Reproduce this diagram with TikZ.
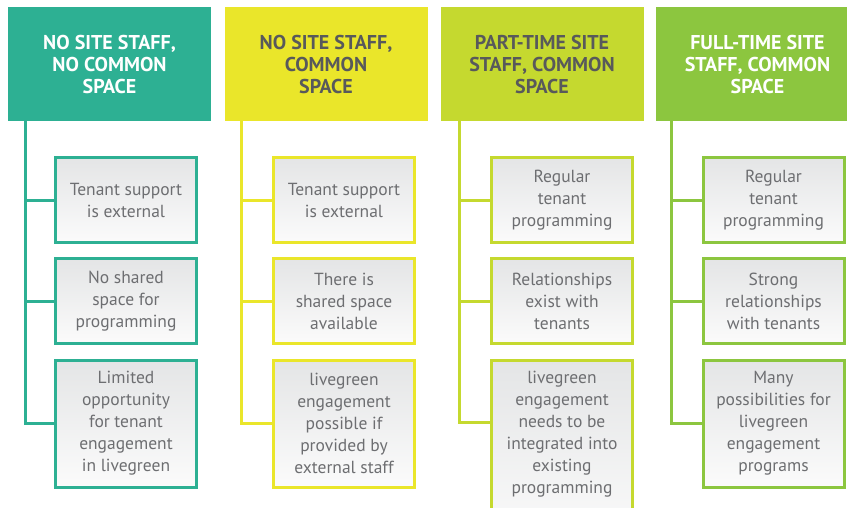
\documentclass[tikz,border=0pt]{standalone}
\usepackage{fontspec}
\setmainfont{PT Sans}
\usetikzlibrary{positioning}

\definecolor{lgTeal}{HTML}{2DB093}
\definecolor{lgYellow}{HTML}{EAE62A}
\definecolor{lgLime}{HTML}{C5D92F}
\definecolor{lgGreen}{HTML}{8CC63F}
\definecolor{headGray}{HTML}{58595B}
\definecolor{itemGray}{HTML}{6D6E71}
\definecolor{boxTop}{HTML}{E4E5E6}
\definecolor{boxBottom}{HTML}{FBFBFB}

\begin{document}
\begin{tikzpicture}[x = 1pt, y = -1pt,
	head/.style = {fill = #1, minimum width = 203pt, minimum height = 114pt, inner sep = 0pt, text depth = 0pt, align = center, font = \bfseries\fontsize{20}{22}\selectfont},
	item/.style = {draw = #1, line width = 3pt, top color = boxTop, bottom color = boxBottom, minimum width = 141pt, anchor = north, align = center, text = itemGray, font = \fontsize{17.5}{22}\selectfont},
	link/.style = {draw = #1, line width = 3pt}]
	\clip (0, 0) rectangle (847, 508);

	% column headers
	\node [head = lgTeal, text = white] (h1) at (109.5, 64) {NO SITE STAFF,\\NO COMMON\\SPACE};
	\node [head = lgYellow, text = headGray] (h2) at (326, 64) {NO SITE STAFF,\\COMMON\\SPACE};
	\node [head = lgLime, text = headGray] (h3) at (542, 64) {PART-TIME SITE\\STAFF, COMMON\\SPACE};
	\node [head = lgGreen, text = white] (h4) at (757.5, 64) {FULL-TIME SITE\\STAFF, COMMON\\SPACE};

	% first column
	\node [item = lgTeal, minimum height = 85pt] (c11) at (126, 156.5) {Tenant support\\is external};
	\node [item = lgTeal, minimum height = 84pt] (c12) at (126, 257.5) {No shared\\space for\\programming};
	\node [item = lgTeal, minimum height = 127pt] (c13) at (126, 358.5) {Limited\\opportunity\\for tenant\\engagement\\in livegreen};

	% second column
	\node [item = lgYellow, minimum height = 85pt] (c21) at (344, 156.5) {Tenant support\\is external};
	\node [item = lgYellow, minimum height = 84pt] (c22) at (344, 257.5) {There is\\shared space\\available};
	\node [item = lgYellow, minimum height = 127pt] (c23) at (344, 358.5) {livegreen\\engagement\\possible if\\provided by\\external staff};

	% third column
	\node [item = lgLime, minimum height = 85pt] (c31) at (562, 156.5) {Regular\\tenant\\programming};
	\node [item = lgLime, minimum height = 84pt] (c32) at (562, 257.5) {Relationships\\exist with\\tenants};
	\node [item = lgLime, inner ysep = 11pt, text depth = 40pt] (c33) at (562, 358.5) {livegreen\\engagement\\needs to be\\integrated into\\existing\\programming};

	% fourth column
	\node [item = lgGreen, minimum height = 85pt] (c41) at (773.5, 156.5) {Regular\\tenant\\programming};
	\node [item = lgGreen, minimum height = 84pt] (c42) at (773.5, 257.5) {Strong\\relationships\\with tenants};
	\node [item = lgGreen, minimum height = 127pt] (c43) at (773.5, 358.5) {Many\\possibilities for\\livegreen\\engagement\\programs};

	% trunks under the headers
	\coordinate (s1) at (25, 121);
	\coordinate (s2) at (241, 121);
	\coordinate (s3) at (459, 121);
	\coordinate (s4) at (671, 121);

	\draw [link = lgTeal] (s1) |- (c11.west);
	\draw [link = lgTeal] (s1) |- (c12.west);
	\draw [link = lgTeal] (s1) |- (c13.west);
	\draw [link = lgYellow] (s2) |- (c21.west);
	\draw [link = lgYellow] (s2) |- (c22.west);
	\draw [link = lgYellow] (s2) |- (c23.west);
	\draw [link = lgLime] (s3) |- (c31.west);
	\draw [link = lgLime] (s3) |- (c32.west);
	\draw [link = lgLime] (s3) |- ([yshift = -63.5pt] c33.north west);
	\draw [link = lgGreen] (s4) |- (c41.west);
	\draw [link = lgGreen] (s4) |- (c42.west);
	\draw [link = lgGreen] (s4) |- (c43.west);
\end{tikzpicture}
\end{document}
